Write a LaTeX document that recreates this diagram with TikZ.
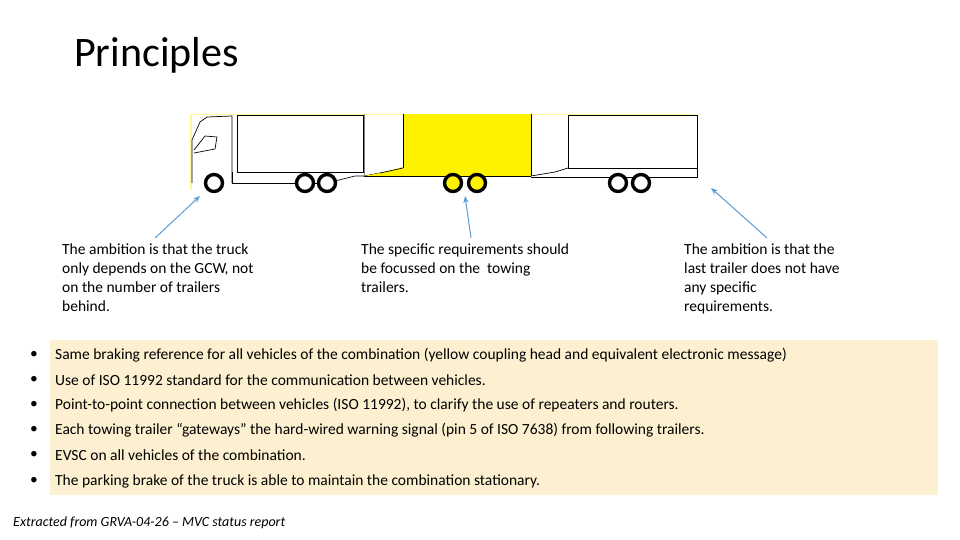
\documentclass[tikz,border=0pt]{standalone}
\usepackage{fontspec}
\setmainfont{Carlito}
\usetikzlibrary{arrows.meta}
\definecolor{arrc}{RGB}{91,155,213}
\definecolor{boxc}{RGB}{253,240,208}
\begin{document}
\begin{tikzpicture}[x=1pt,y=-1pt,
  wheel/.style={draw=black,line width=3.4pt},
  body/.style={draw=black,line width=0.7pt},
  note/.style={align=left,anchor=north west,font=\fontsize{15.5}{19}\selectfont,inner sep=0pt},
  bul/.style={anchor=west,font=\fontsize{15.5}{17}\selectfont,inner sep=0pt},
  arr/.style={draw=arrc,line width=1pt,-{Stealth[length=7pt]}}]
\useasboundingbox (0,0) rectangle (960,540);
\node[anchor=west,font=\fontsize{42}{44}\selectfont,inner sep=0pt] (title) at (74,55) {Principles};
% truck
\fill[yellow!40!white] (190,114) rectangle (192,190);
\draw[yellow!40!white] (190,114) -- (697,114);
\draw[body] (192,183) -- (192,140) -- (200,122) -- (207,117) -- (232,116) -- (232,183);
\draw[body] (194,153) -- (215,149) -- (217,137) -- (205,136) -- (194,150);
\draw[gray] (237,116) -- (237,171);
\draw[body] (237,115) rectangle (363,172);
\draw[body] (232,172) -- (232,183) -- (335,183);
\draw[body] (335,181) -- (355,176) -- (364,176) -- (380,173);
% yellow trailer
\fill[yellow] (403,114) rectangle (531,176);
\fill[yellow] (364,176) -- (403,176) -- (403,167) -- (380,173) -- cycle;
\draw[gray] (364,114) -- (364,176);
\draw[body] (403,114) -- (403,168);
\draw[body] (531,114) -- (531,176);
\draw[body] (364,176) -- (531,176);
\draw[body] (380,173) -- (403,168);
% last trailer
\draw[body] (568,115) rectangle (697,168);
\draw[body] (531,177) -- (697,177) -- (697,168);
\draw[body] (531,176) -- (555,172) -- (568,168);
% wheels
\foreach \x in {214,305,327,618,641} \draw[wheel,fill=white] (\x,183) circle (8.5);
\foreach \x in {453,477} \draw[wheel,fill=yellow] (\x,183) circle (8.5);
% texts
\node[note] (n1) at (62,244) {The ambition is that the truck\\only depends on the GCW, not\\on the number of trailers\\behind.};
\node[note] (n2) at (361,244) {The specific requirements should\\be focussed on the\ \ towing\\trailers.};
\node[note] (n3) at (684,244) {The ambition is that the\\last trailer does not have\\any specific\\requirements.};
\coordinate (a1) at (200,196); \coordinate (a2) at (465,196); \coordinate (a3) at (711,188);
\draw[arr] (155,238) -- (a1);
\draw[arr] (471,238) -- (a2);
\draw[arr] (767,238) -- (a3);
% bullet box
\fill[boxc] (50,340) rectangle (938,495);
\foreach \y/\t in {355/{Same braking reference for all vehicles of the combination (yellow coupling head and equivalent electronic message)},
 380/{Use of ISO 11992 standard for the communication between vehicles.},
 405/{Point-to-point connection between vehicles (ISO 11992), to clarify the use of repeaters and routers.},
 430/{Each towing trailer “gateways” the hard-wired warning signal (pin 5 of ISO 7638) from following trailers.},
 455/{EVSC on all vehicles of the combination.},
 481/{The parking brake of the truck is able to maintain the combination stationary.}}
 {\node[bul] at (30,\y) {•}; \node[bul] at (55,\y) {\t};}
\node[anchor=west,inner sep=0pt,font=\itshape\fontsize{14}{16}\selectfont] (src) at (13,523) {Extracted from GRVA-04-26 -- MVC status report};
\end{tikzpicture}
\end{document}
